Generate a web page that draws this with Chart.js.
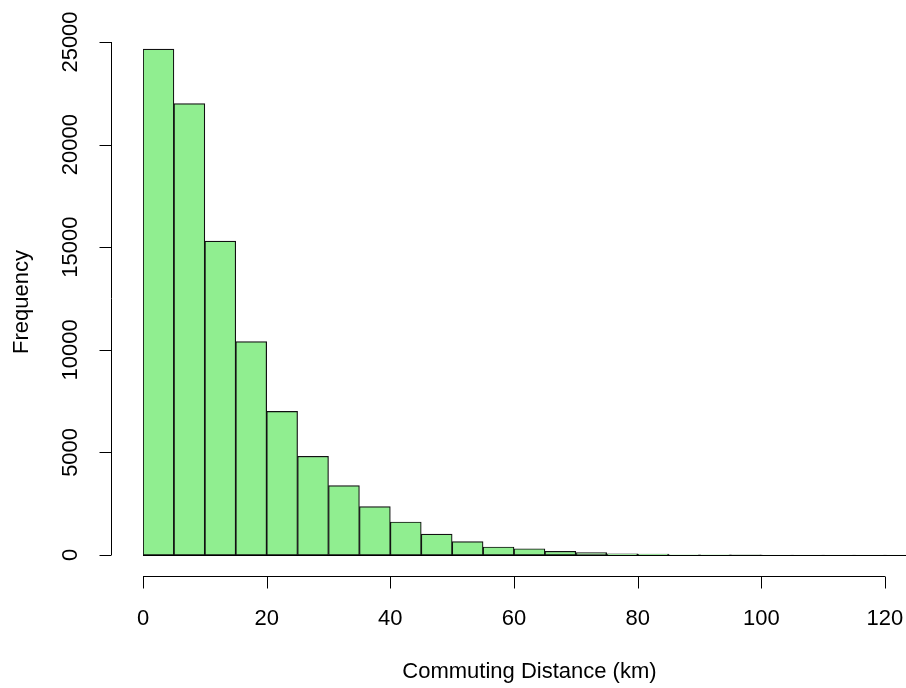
<!DOCTYPE html>
<html>
<head>
<meta charset="utf-8">
<script src="https://cdn.jsdelivr.net/npm/chart.js@4"></script>
<style>
  html, body { margin: 0; padding: 0; background: #fff; }
  #wrap { width: 906px; height: 688px; }
</style>
</head>
<body>
<div id="wrap"><canvas id="chart" width="906" height="688"></canvas></div>
<script>
// histogram bins, width 5 km
const binStarts = [0, 5, 10, 15, 20, 25, 30, 35, 40, 45, 50, 55, 60, 65, 70, 75, 80, 85, 90, 95, 100, 105, 110, 115, 120]
const counts = [24650, 22000, 15300, 10400, 7000, 4810, 3380, 2360, 1610, 1020, 650, 390, 305, 180, 112, 63, 40, 12, 5, 3, 2, 1, 1, 1, 1]
const binWidth = 5

const xTicks = [0, 20, 40, 60, 80, 100, 120]
const yTicks = [0, 5000, 10000, 15000, 20000, 25000]

const xTitle = "Commuting Distance (km)"
const yTitle = "Frequency"

const FONT = '22px "Liberation Sans", Arial, sans-serif'
const INK = "#000"

// draws R style base axes (detached from plot region)
const rAxes = {
  id: "rAxes",
  afterDraw(chart) {
    const ctx = chart.ctx
    const xs = chart.scales.x
    const ys = chart.scales.y
    const xEnd = binStarts[binStarts.length - 1] + binWidth
    ctx.save()
    ctx.strokeStyle = INK
    ctx.fillStyle = INK
    ctx.lineWidth = 1
    ctx.font = FONT

    // baseline under the bars
    const y0 = Math.round(ys.getPixelForValue(0)) + 0.5
    ctx.beginPath()
    ctx.moveTo(xs.getPixelForValue(0), y0)
    ctx.lineTo(xs.getPixelForValue(xEnd), y0)
    ctx.stroke()

    // x axis
    const axY = 576.5
    ctx.beginPath()
    ctx.moveTo(xs.getPixelForValue(xTicks[0]), axY)
    ctx.lineTo(xs.getPixelForValue(xTicks[xTicks.length - 1]), axY)
    xTicks.forEach(t => {
      const px = Math.round(xs.getPixelForValue(t)) + 0.5
      ctx.moveTo(px, axY)
      ctx.lineTo(px, axY + 12)
    })
    ctx.stroke()
    ctx.textAlign = "center"
    ctx.textBaseline = "alphabetic"
    xTicks.forEach(t => {
      ctx.fillText(String(t), xs.getPixelForValue(t), 625)
    })
    ctx.fillText(xTitle, xs.getPixelForValue(xEnd / 2), 678)

    // y axis
    const axX = 111.5
    ctx.beginPath()
    ctx.moveTo(axX, ys.getPixelForValue(yTicks[0]))
    ctx.lineTo(axX, ys.getPixelForValue(yTicks[yTicks.length - 1]))
    yTicks.forEach(t => {
      const py = Math.round(ys.getPixelForValue(t)) + 0.5
      ctx.moveTo(axX, py)
      ctx.lineTo(axX - 12, py)
    })
    ctx.stroke()
    yTicks.forEach(t => {
      ctx.save()
      ctx.translate(77, ys.getPixelForValue(t))
      ctx.rotate(-Math.PI / 2)
      ctx.fillText(String(t), 0, 0)
      ctx.restore()
    })
    ctx.save()
    ctx.translate(28, ys.getPixelForValue(Math.max(...counts) / 2))
    ctx.rotate(-Math.PI / 2)
    ctx.fillText(yTitle, 0, 0)
    ctx.restore()

    ctx.restore()
  },
}

new Chart(document.getElementById("chart"), {
  type: "bar",
  data: {
    datasets: [
      {
        label: yTitle,
        data: binStarts.map((b, i) => ({ x: b + binWidth / 2, y: counts[i] })),
        backgroundColor: "#90EE90",
        borderColor: "#111",
        borderWidth: 1.2,
        borderSkipped: false,
        barPercentage: 1,
        categoryPercentage: 1,
      },
    ],
  },
  options: {
    responsive: false,
    animation: false,
    layout: { padding: { left: 143, right: 0, top: 42, bottom: 133 } },
    plugins: { legend: { display: false }, tooltip: { enabled: false } },
    scales: {
      x: { type: "linear", min: 0, max: 123.4, offset: false, display: false },
      y: { min: 0, max: 25000, display: false },
    },
  },
  plugins: [rAxes],
})
</script>
</body>
</html>
